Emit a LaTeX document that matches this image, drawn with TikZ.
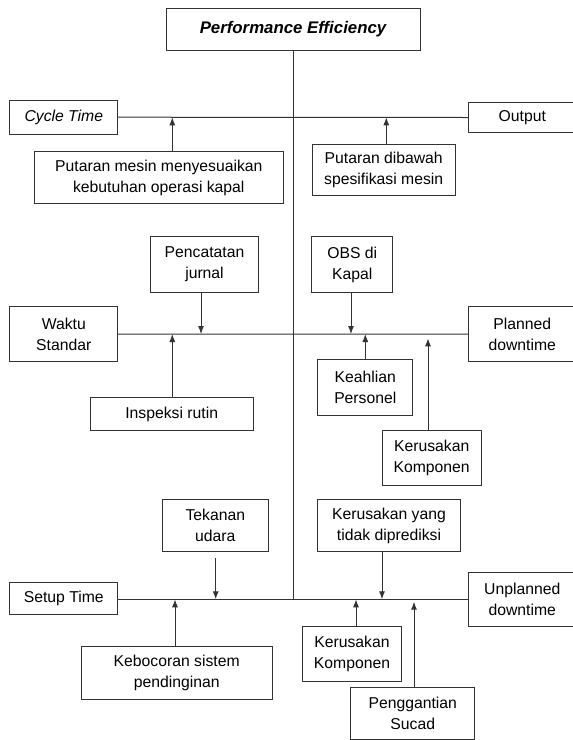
\documentclass[tikz,border=0pt]{standalone}
\usepackage{fontspec}
\setmainfont{Liberation Sans}
\usetikzlibrary{arrows.meta}
\tikzset{
  box/.style={draw=black!80, line width=0.75pt, align=center, inner sep=0pt,
    font=\fontsize{11.8pt}{15.75pt}\selectfont},
  sz/.style 2 args={minimum width=#1*0.75pt, minimum height=#2*0.75pt},
  axis/.style={draw=black!80, line width=0.75pt},
}
\begin{document}
\begin{tikzpicture}[x=0.75pt, y=-0.75pt, >={Latex[length=6pt,width=4.5pt]}]
\useasboundingbox (0,0) rectangle (572,740);
\node[box, sz={254}{42}, font=\fontsize{12.6pt}{15pt}\selectfont\bfseries\itshape] (perf) at (293,29) {Performance Efficiency};
% categories
\node[box, sz={107.7}{34.3}] (cycle) at (63.8,117.2) {\itshape Cycle Time};
\node[box, sz={107.6}{29.6}] (output) at (522.3,117.5) {Output};
\node[box, sz={107.7}{55}] (waktu) at (63.8,334.2) {Waktu\\Standar};
\node[box, sz={107.6}{55.7}] (planned) at (522.3,334) {Planned\\downtime};
\node[box, sz={107.7}{32.3}] (setup) at (63.8,598.8) {Setup Time};
\node[box, sz={107.6}{54}] (unplanned) at (522.3,599.7) {Unplanned\\downtime};
% causes
\node[box, sz={249}{51.6}] (putaran) at (158.8,177.5) {Putaran mesin menyesuaikan\\kebutuhan operasi kapal};
\node[box, sz={143.3}{50.7}] (dibawah) at (383.7,170.3) {Putaran dibawah\\spesifikasi mesin};
\node[box, sz={107.6}{55.6}] (jurnal) at (204.5,264.5) {Pencatatan\\jurnal};
\node[box, sz={80.7}{55.6}] (obs) at (352.3,264.5) {OBS di\\Kapal};
\node[box, sz={163.3}{33.3}] (inspeksi) at (171.7,414.3) {Inspeksi rutin};
\node[box, sz={95.3}{55.7}] (keahlian) at (365.3,387.2) {Keahlian\\Personel};
\node[box, sz={99.3}{55.3}] (rusakA) at (431.7,458.3) {Kerusakan\\Komponen};
\node[box, sz={106}{52.4}] (tekanan) at (215.3,525.5) {Tekanan\\udara};
\node[box, sz={142.6}{52.4}] (prediksi) at (389,525.5) {Kerusakan yang\\tidak diprediksi};
\node[box, sz={191.3}{52.6}] (bocor) at (176.7,673) {Kebocoran sistem\\pendinginan};
\node[box, sz={99}{55}] (rusakB) at (352,654.2) {Kerusakan\\Komponen};
\node[box, sz={124.3}{52}] (sucad) at (412.8,713.3) {Penggantian\\Sucad};
% spine and branches
\coordinate (end) at (293,599.3);
\draw[axis] (perf.south) -- (end);
\draw[axis] (cycle.east) -- (output.west);
\draw[axis] (waktu.east) -- (planned.west);
\draw[axis] (setup.east |- end) -- (unplanned.west |- end);
% arrow points on the branches
\coordinate (a1) at (172.3,117.3);
\coordinate (a2) at (386.3,117.3);
\coordinate (b1) at (201,334);
\coordinate (b2) at (351,334);
\coordinate (b3) at (172.3,334);
\coordinate (b4) at (365.3,334);
\coordinate (b5) at (428,338.3);
\coordinate (c1) at (215.7,599.3);
\coordinate (c2) at (382,599.3);
\coordinate (c3) at (175,599.3);
\coordinate (c4) at (356,599.3);
\coordinate (c5) at (414,601.7);
\draw[axis, ->] (putaran.north -| a1) -- (a1);
\draw[axis, ->] (dibawah.north -| a2) -- (a2);
\draw[axis, ->] (jurnal.south -| b1) -- (b1);
\draw[axis, ->] (obs.south -| b2) -- (b2);
\draw[axis, ->] (inspeksi.north -| b3) -- (b3);
\draw[axis, ->] (keahlian.north -| b4) -- (b4);
\draw[axis, ->] (rusakA.north -| b5) -- (b5);
\draw[axis, ->] ([yshift=-4.2pt]tekanan.south -| c1) -- (c1);
\draw[axis, ->] (prediksi.south -| c2) -- (c2);
\draw[axis, ->] (bocor.north -| c3) -- (c3);
\draw[axis, ->] (rusakB.north -| c4) -- (c4);
\draw[axis, ->] (sucad.north -| c5) -- (c5);
\end{tikzpicture}
\end{document}
